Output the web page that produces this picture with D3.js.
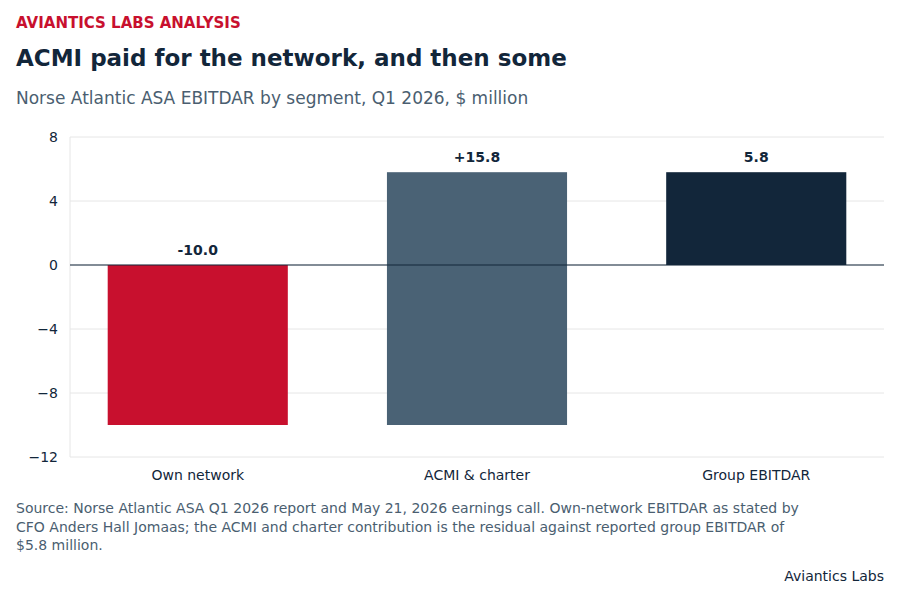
<!DOCTYPE html>
<html><head><meta charset="utf-8">
<script src="https://cdn.jsdelivr.net/npm/d3@7"></script>
<style>body{margin:0;background:#fff;font-family:"DejaVu Sans",sans-serif}</style>
</head><body><svg id="c" width="900" height="600"></svg>
<script>
const categories = ["Own network", "ACMI & charter", "Group EBITDAR"];
const starts = [0, -10, 0];
const ends = [-10, 5.8, 5.8];
const labels = ["-10.0", "+15.8", "5.8"];
const colors = ["#C8102E", "#4A6275", "#12263A"];
const yTicks = [8, 4, 0, -4, -8, -12];

const svg = d3.select('#c');
const m = {l: 70, r: 884, t: 137, b: 457};
const x = d3.scaleBand().domain(categories).range([m.l, m.r]).paddingInner(0.355).paddingOuter(0.135);
const y = d3.scaleLinear().domain([-12, 8]).range([m.b, m.t]);

// header
svg.append('text').attr('x', 16).attr('y', 28).attr('fill', '#C8102E').attr('font-size', 15).attr('font-weight', 'bold').text('AVIANTICS LABS ANALYSIS');
svg.append('text').attr('x', 16).attr('y', 66).attr('fill', '#12263A').attr('font-size', 23).attr('font-weight', 'bold').text('ACMI paid for the network, and then some');
svg.append('text').attr('x', 16).attr('y', 104).attr('fill', '#4A5E70').attr('font-size', 17).text('Norse Atlantic ASA EBITDAR by segment, Q1 2026, $ million');

// grid
svg.append('g').selectAll('line').data(yTicks).join('line')
    .attr('x1', m.l).attr('x2', m.r).attr('y1', d => y(d)).attr('y2', d => y(d))
    .attr('stroke', '#e6e6e6');
svg.append('line').attr('x1', m.l).attr('x2', m.l).attr('y1', m.t).attr('y2', m.b).attr('stroke', '#e6e6e6');

// axes
const ya = svg.append('g').attr('transform', `translate(${m.l},0)`).call(d3.axisLeft(y).tickValues(yTicks).tickSize(0).tickPadding(12));
ya.select('.domain').remove();
ya.selectAll('text').attr('font-size', 14).attr('fill', '#12263A').attr('font-family', '"DejaVu Sans",sans-serif');
const xa = svg.append('g').attr('transform', `translate(0,${m.b})`).call(d3.axisBottom(x).tickSize(0).tickPadding(13));
xa.select('.domain').remove();
xa.selectAll('text').attr('font-size', 14).attr('fill', '#12263A').attr('font-family', '"DejaVu Sans",sans-serif');

// bars
svg.append('g').selectAll('rect').data(categories).join('rect')
    .attr('x', d => x(d)).attr('width', x.bandwidth())
    .attr('y', (d, i) => y(Math.max(starts[i], ends[i])))
    .attr('height', (d, i) => Math.abs(y(starts[i]) - y(ends[i])))
    .attr('fill', (d, i) => colors[i]);

// zero line
svg.append('line').attr('x1', m.l).attr('x2', m.r).attr('y1', y(0)).attr('y2', y(0)).attr('stroke', '#12263A').attr('stroke-width', 1.2);

// value labels
svg.append('g').selectAll('text').data(categories).join('text')
    .attr('x', d => x(d) + x.bandwidth() / 2)
    .attr('y', (d, i) => y(Math.max(starts[i], ends[i])) - 10)
    .attr('text-anchor', 'middle').attr('font-size', 14).attr('font-weight', 'bold').attr('fill', '#12263A')
    .text((d, i) => labels[i]);

// footer
const src = ['Source: Norse Atlantic ASA Q1 2026 report and May 21, 2026 earnings call. Own-network EBITDAR as stated by',
  'CFO Anders Hall Jomaas; the ACMI and charter contribution is the residual against reported group EBITDAR of',
  '$5.8 million.'];
svg.append('g').selectAll('text').data(src).join('text')
    .attr('x', 16).attr('y', (d, i) => 513 + i * 18.5).attr('font-size', 14).attr('fill', '#4A5E70').text(d => d);
svg.append('text').attr('x', 884).attr('y', 581).attr('text-anchor', 'end').attr('font-size', 14).attr('fill', '#12263A').text('Aviantics Labs');
</script></body></html>
